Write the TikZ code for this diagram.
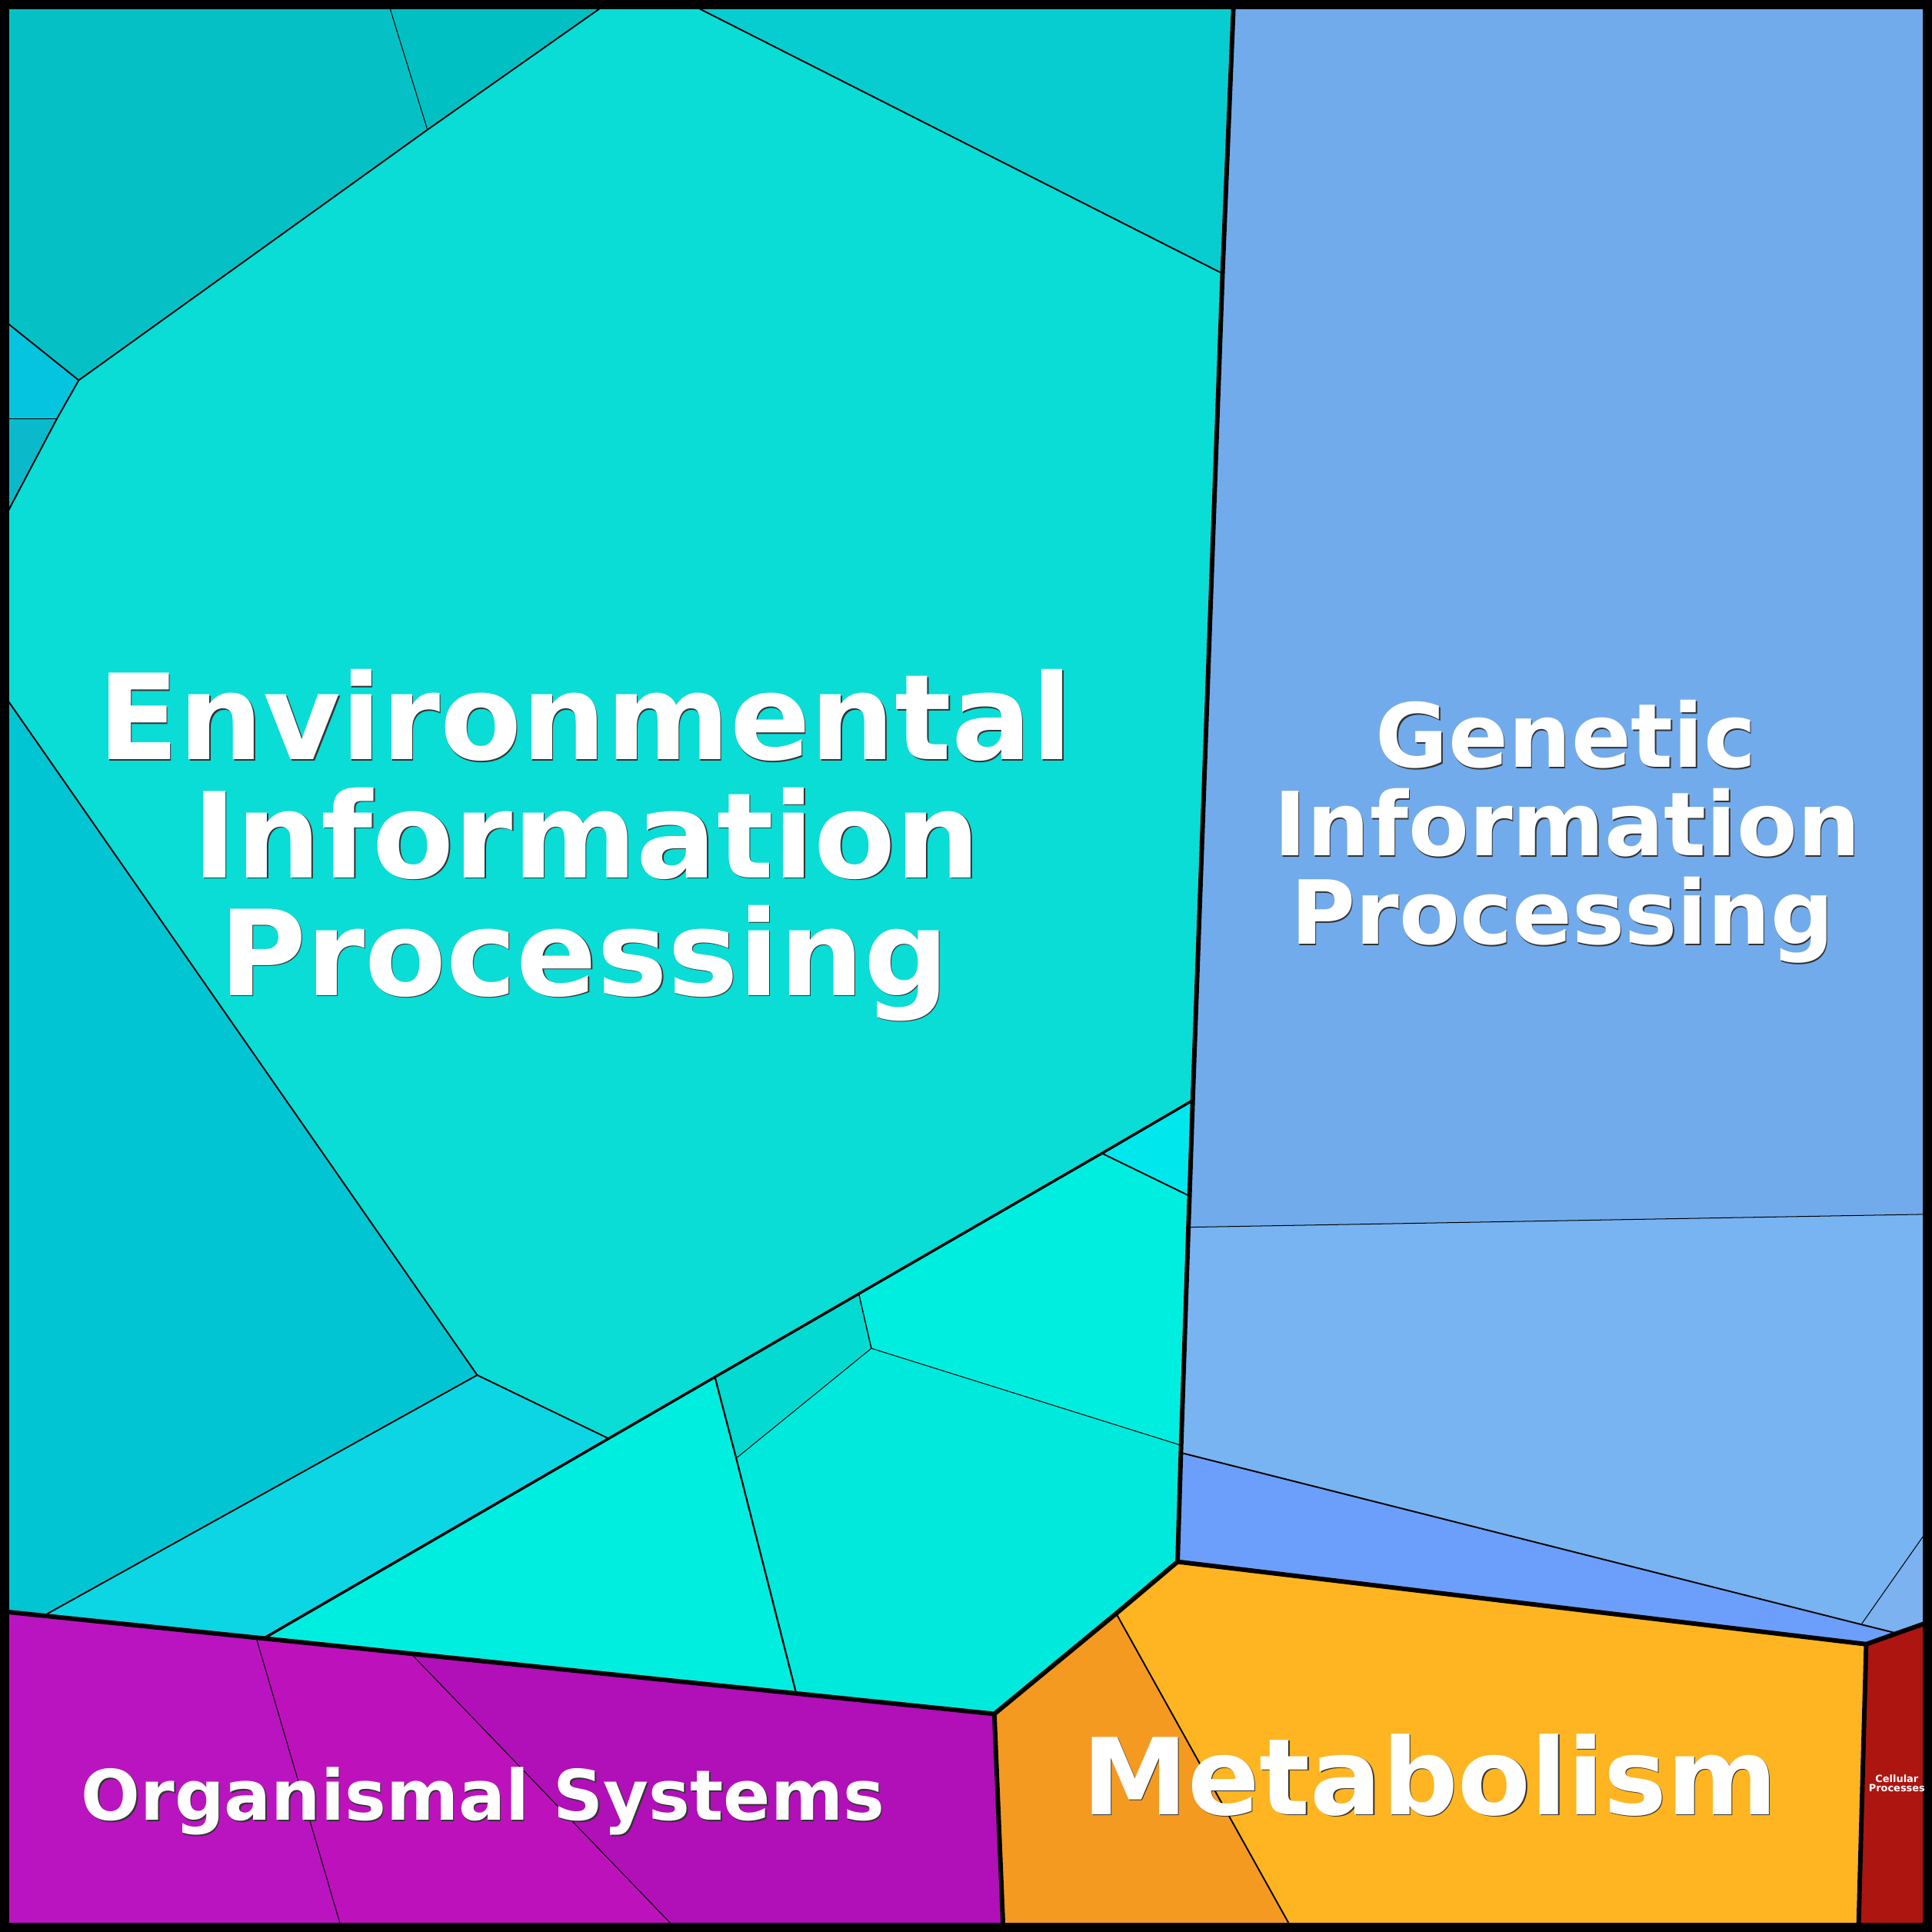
\documentclass[tikz,border=0pt]{standalone}
\usepackage{fontspec}
\newfontfamily\lblfont{DejaVu Sans}
\definecolor{cTLa}{HTML}{05C1C6}
\definecolor{cTLb}{HTML}{00C0C3}
\definecolor{cBig}{HTML}{0ADCD6}
\definecolor{cTR}{HTML}{07CDD1}
\definecolor{cSa}{HTML}{05C4DF}
\definecolor{cSb}{HTML}{0ABACB}
\definecolor{cLeft}{HTML}{02C5D3}
\definecolor{cLtwo}{HTML}{0DD6E4}
\definecolor{cTri}{HTML}{00E8EE}
\definecolor{cBtop}{HTML}{00EEE0}
\definecolor{cBsmall}{HTML}{02DAD2}
\definecolor{cBbig}{HTML}{00E9DD}
\definecolor{cBleft}{HTML}{00EEE0}
\definecolor{cGa}{HTML}{72ABEB}
\definecolor{cGb}{HTML}{78B4F1}
\definecolor{cGc}{HTML}{7BB2EF}
\definecolor{cGd}{HTML}{6C9FFB}
\definecolor{cMo}{HTML}{F59A20}
\definecolor{cMy}{HTML}{FFB521}
\definecolor{cCell}{HTML}{AD1511}
\definecolor{cOa}{HTML}{BA14C0}
\definecolor{cOb}{HTML}{BD12BB}
\definecolor{cOc}{HTML}{B10FB8}
\newcommand\celllabel[5]{%
  \node[lblshadow,font=\lblfont\bfseries\fontsize{#4}{#4}\selectfont] (#1s) at (#2+0.9,#3+0.9) {#5};
  \node[lbltext,font=\lblfont\bfseries\fontsize{#4}{#4}\selectfont] (#1) at (#2,#3) {#5};}
\begin{document}
\begin{tikzpicture}[x=0.01cm,y=-0.01cm,
  lone/.style={line width=1.05pt,line join=round,line cap=round},
  ltwo/.style={line width=0.6pt,line join=round},
  lthree/.style={line width=0.34pt,line join=round},
  lfour/.style={line width=0.18pt,line join=round},
  lbltext/.style={anchor=base,inner sep=0pt,text=white},
  lblshadow/.style={anchor=base,inner sep=0pt,text=black!80}]
\useasboundingbox (0,0) rectangle (1568,1568);
% coordinates
\coordinate (C1) at (0,0);
\coordinate (C2) at (1568,0);
\coordinate (C3) at (1568,1568);
\coordinate (C4) at (0,1568);
\coordinate (T1) at (314.4,0);
\coordinate (A2) at (346.9,105.3);
\coordinate (T2) at (496.6,0);
\coordinate (T3) at (553.7,0);
\coordinate (T4) at (1001.3,0);
\coordinate (A4) at (63.9,308.6);
\coordinate (L1) at (0,257.4);
\coordinate (A6) at (46.2,339.8);
\coordinate (L2) at (0,339.8);
\coordinate (L3) at (0,427.2);
\coordinate (L4) at (0,559.3);
\coordinate (J1) at (992.2,222);
\coordinate (J2) at (968,893);
\coordinate (J3) at (965.4,970.6);
\coordinate (J4) at (964.5,996);
\coordinate (J5) at (958.6,1173);
\coordinate (J6) at (958.4,1179);
\coordinate (J7) at (955.7,1267.5);
\coordinate (E10) at (387.3,1116);
\coordinate (E11) at (494,1167.5);
\coordinate (E12) at (35.6,1311.25);
\coordinate (L5) at (0,1307.6);
\coordinate (B1) at (214,1329.7);
\coordinate (B3) at (580.2,1117.6);
\coordinate (B4) at (697,1050);
\coordinate (B5) at (894.3,936);
\coordinate (B6) at (707.2,1094.3);
\coordinate (B7) at (597.5,1183.5);
\coordinate (B8) at (646.2,1374.4);
\coordinate (M1) at (807,1391);
\coordinate (M2) at (905.9,1309.5);
\coordinate (M3) at (1049.9,1568);
\coordinate (M4) at (814.3,1568);
\coordinate (M5) at (1514.6,1334.4);
\coordinate (M6) at (1508.3,1568);
\coordinate (R1) at (1568,985.4);
\coordinate (R2) at (1568,1236.6);
\coordinate (R3) at (1568,1315.5);
\coordinate (G5) at (1510.6,1318.4);
\coordinate (G6) at (1539.6,1325.6);
\coordinate (O1) at (207.9,1329.1);
\coordinate (O2) at (333.6,1342.1);
\coordinate (O3) at (278,1568);
\coordinate (O4) at (551,1568);
% fills: Environmental Information Processing
\fill[cTLa] (C1) -- (T1) -- (A2) -- (A4) -- (L1) -- cycle;
\fill[cTLb] (T1) -- (T2) -- (A2) -- cycle;
\fill[cBig] (T2) -- (T3) -- (J1) -- (J2) -- (B5) -- (B4) -- (B3) -- (E11) -- (E10) -- (L4) -- (L3) -- (A6) -- (A4) -- (A2) -- cycle;
\fill[cTR] (T3) -- (T4) -- (J1) -- cycle;
\fill[cSa] (L1) -- (A4) -- (A6) -- (L2) -- cycle;
\fill[cSb] (L2) -- (A6) -- (L3) -- cycle;
\fill[cLeft] (L4) -- (E10) -- (E12) -- (L5) -- cycle;
\fill[cLtwo] (E10) -- (E11) -- (B1) -- (E12) -- cycle;
\fill[cTri] (B5) -- (J2) -- (J3) -- cycle;
\fill[cBtop] (B4) -- (B5) -- (J3) -- (J5) -- (B6) -- cycle;
\fill[cBsmall] (B3) -- (B4) -- (B6) -- (B7) -- cycle;
\fill[cBbig] (B7) -- (B6) -- (J5) -- (J6) -- (J7) -- (M2) -- (M1) -- (B8) -- cycle;
\fill[cBleft] (B1) -- (E11) -- (B3) -- (B7) -- (B8) -- cycle;
% Genetic Information Processing
\fill[cGa] (T4) -- (C2) -- (R1) -- (J4) -- (J3) -- (J2) -- (J1) -- cycle;
\fill[cGb] (J4) -- (R1) -- (R2) -- (G5) -- (J6) -- (J5) -- cycle;
\fill[cGc] (G5) -- (R2) -- (R3) -- (G6) -- cycle;
\fill[cGd] (J6) -- (G6) -- (M5) -- (J7) -- cycle;
% Metabolism
\fill[cMo] (M1) -- (M2) -- (M3) -- (M4) -- cycle;
\fill[cMy] (M2) -- (J7) -- (M5) -- (M6) -- (M3) -- cycle;
% Cellular Processes
\fill[cCell] (M5) -- (R3) -- (C3) -- (M6) -- cycle;
% Organismal Systems
\fill[cOa] (L5) -- (O1) -- (O3) -- (C4) -- cycle;
\fill[cOb] (O1) -- (O2) -- (O4) -- (O3) -- cycle;
\fill[cOc] (O2) -- (M1) -- (M4) -- (O4) -- cycle;
% finest lines
\draw[lfour] (T1) -- (A2);
\draw[lfour] (L2) -- (A6);
\draw[lfour] (B6) -- (B7);
\draw[lfour] (B6) -- (J5);
\draw[line width=0.25pt] (B4) -- (B6);
\draw[lfour] (J4) -- (R1);
\draw[lfour] (G5) -- (R2);
\draw[lfour] (O1) -- (O3);
\draw[lfour] (O2) -- (O4);
% third level lines
\draw[lthree] (T2) -- (A2) -- (A4) -- (A6) -- (L3);
\draw[lthree] (L1) -- (A4);
\draw[lthree] (T3) -- (J1);
\draw[lthree] (L4) -- (E10) -- (E11);
\draw[lthree] (E10) -- (E12);
\draw[lthree] (B5) -- (J3);
\draw[line width=0.4pt,line join=round] (B3) -- (B7) -- (B8);
\draw[lthree] (M2) -- (M3);
\draw[lthree] (J6) -- (G5) -- (G6);
% second level line
\draw[ltwo] (B1) -- (E11) -- (B3) -- (B4) -- (B5) -- (J2);
% first level lines
\draw[lone] (T4) -- (J1) -- (J2) -- (J3) -- (J4) -- (J5) -- (J6) -- (J7);
\draw[lone] (L5) -- (O1) -- (B1) -- (O2) -- (B8) -- (M1) -- (M2) -- (J7) -- (M5);
\draw[lone] (M1) -- (M4);
\draw[lone] (M6) -- (M5) -- (R3);
% outer frame
\draw[line width=2.13pt] (3.75,3.75) rectangle (1564.25,1564.25);
% labels
\celllabel{envA}{475}{616.5}{27.4pt}{Environmental}
\celllabel{envB}{476}{712.2}{27.4pt}{Information}
\celllabel{envC}{474}{807.9}{27.4pt}{Processing}
\celllabel{genA}{1271}{622.8}{20.4pt}{Genetic}
\celllabel{genB}{1272}{694.6}{20.4pt}{Information}
\celllabel{genC}{1268}{766.4}{20.4pt}{Processing}
\celllabel{met}{1160.5}{1472.7}{24.5pt}{Metabolism}
\celllabel{org}{392}{1477.3}{16.05pt}{Organismal Systems}
\node[lbltext,font=\lblfont\bfseries\fontsize{2.3pt}{2.3pt}\selectfont] (celA) at (1539.5,1446.4) {Cellular};
\node[lbltext,font=\lblfont\bfseries\fontsize{2.3pt}{2.3pt}\selectfont] (celB) at (1539.5,1453.8) {Processes};
\end{tikzpicture}
\end{document}
